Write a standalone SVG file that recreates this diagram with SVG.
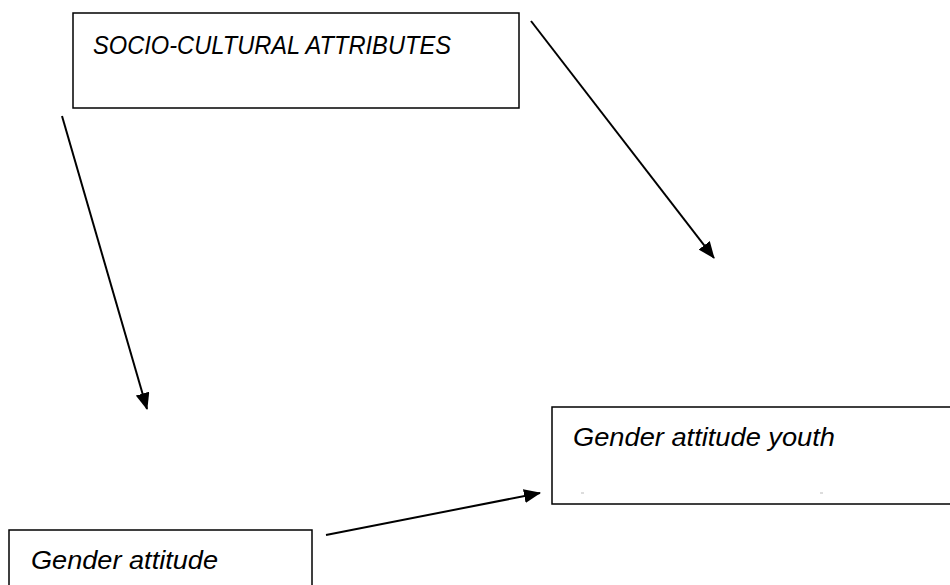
<svg xmlns="http://www.w3.org/2000/svg" width="950" height="585" viewBox="0 0 950 585">
<style>
.box{fill:#fff;stroke:#000;stroke-width:1.5}
.lbl{font-family:"Liberation Sans",Arial,sans-serif;font-style:italic;font-size:25px;fill:#000}
.conn{stroke:#000;stroke-width:2;fill:none;marker-end:url(#ah)}
</style>
<defs>
<marker id="ah" markerWidth="17" markerHeight="14" refX="16" refY="7" orient="auto" markerUnits="userSpaceOnUse">
<path d="M0,0 L17,7 L0,14 Z" fill="#000"/>
</marker>
</defs>
<rect width="950" height="585" fill="#fff"/>
<g id="node-socio">
<rect class="box" x="73" y="13" width="446" height="95"/>
<text class="lbl" x="93" y="54" textLength="358" lengthAdjust="spacingAndGlyphs">SOCIO-CULTURAL ATTRIBUTES</text>
</g>
<g id="node-youth">
<rect class="box" x="552" y="407" width="400" height="97"/>
<text class="lbl" x="573" y="446" textLength="262" lengthAdjust="spacingAndGlyphs">Gender attitude youth</text>
<line x1="581" y1="493" x2="584" y2="493" stroke="#bbb" stroke-width="1"/>
<line x1="820" y1="493" x2="823" y2="493" stroke="#bbb" stroke-width="1"/>
</g>
<g id="node-gender">
<rect class="box" x="9" y="530" width="303" height="60"/>
<text class="lbl" x="31" y="569" textLength="187" lengthAdjust="spacingAndGlyphs">Gender attitude</text>
</g>
<g id="connectors">
<line class="conn" x1="62" y1="116" x2="147" y2="409"/>
<line class="conn" x1="531" y1="21" x2="714" y2="258"/>
<line class="conn" x1="326" y1="535" x2="540" y2="493"/>
</g>
</svg>
